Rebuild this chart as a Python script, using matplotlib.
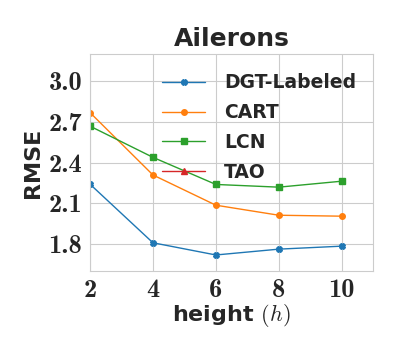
import numpy as np
import matplotlib
matplotlib.use('Agg')
import matplotlib.pyplot as plt
import seaborn as sns

sns.set_style('whitegrid')
plt.rcParams['font.family'] = ['DejaVu Sans']
plt.rcParams['mathtext.fontset'] = 'cm'

heights = [2, 4, 6, 8, 10]
dgt = [2.242, 1.81, 1.72, 1.763, 1.785]
cart = [2.77, 2.31, 2.087, 2.013, 2.006]
lcn = [2.67, 2.44, 2.24, 2.22, 2.264]
tao = []

fig = plt.figure(figsize=(4, 3.5), dpi=100)
ax = fig.add_axes([0.225, 0.225, 0.708, 0.62])

ax.plot(heights, dgt, marker='X', markersize=4, linewidth=1, label='DGT-Labeled', color='#1f77b4')
ax.plot(heights, cart, marker='o', markersize=4, linewidth=1, label='CART', color='#ff7f0e')
ax.plot(heights, lcn, marker='s', markersize=4, linewidth=1, label='LCN', color='#2ca02c')
ax.plot([], [], marker='^', markersize=4, linewidth=1, label='TAO', color='#d62728')

ax.set_xlim(2, 11)
ax.set_ylim(1.6, 3.2)
xt = [2, 4, 6, 8, 10]
yt = [1.8, 2.1, 2.4, 2.7, 3.0]
ax.set_xticks(xt)
ax.set_xticklabels(['%d' % v for v in xt], fontsize=19, fontfamily='cmb10')
ax.set_yticks(yt)
ax.set_yticklabels(['%.1f' % v for v in yt], fontsize=19, fontfamily='cmb10')
ax.tick_params(pad=2)

ax.set_title('Ailerons', fontsize=18, fontweight='bold')
ax.set_xlabel(r'height $(h)$', fontsize=16, fontweight='bold', labelpad=0)
ax.set_ylabel('RMSE', fontsize=16, fontweight='bold', labelpad=4)

leg = ax.legend(loc='upper right', bbox_to_anchor=(1.0, 0.99), frameon=False,
                prop={'weight': 'bold', 'size': 13.5},
                handlelength=2.3, handletextpad=1.0, labelspacing=0.58)

plt.savefig('out.png', dpi=100)
